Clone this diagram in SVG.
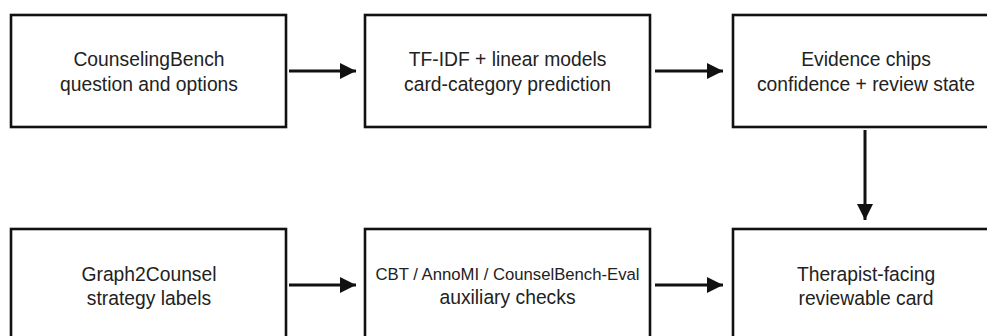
<svg xmlns="http://www.w3.org/2000/svg" width="987" height="336" viewBox="0 0 987 336">
<defs>
<marker id="ah" viewBox="0 0 16 16" refX="16" refY="8" markerWidth="16" markerHeight="16" markerUnits="userSpaceOnUse" orient="auto">
<path d="M0,0 L16,8 L0,16 Z" fill="#111"/>
</marker>
</defs>
<style>
.box{fill:#fff;stroke:#111;stroke-width:2.6}
.t{font-family:"Liberation Sans",Arial,sans-serif;font-size:19.3px;fill:#222;text-anchor:middle}
.s{font-size:16.7px}
.c{stroke:#111;stroke-width:3;fill:none;marker-end:url(#ah)}
</style>
<rect width="987" height="336" fill="#fff"/>
<g id="n1"><rect class="box" x="11" y="15" width="275" height="112"/>
<text class="t" x="149" y="66">CounselingBench</text><text class="t" x="149" y="91">question and options</text></g>
<g id="n2"><rect class="box" x="365" y="15" width="285" height="112"/>
<text class="t" x="507.5" y="66">TF-IDF + linear models</text><text class="t" x="507.5" y="91">card-category prediction</text></g>
<g id="n3"><rect class="box" x="733" y="15" width="266" height="112"/>
<text class="t" x="866" y="66">Evidence chips</text><text class="t" x="866" y="91">confidence + review state</text></g>
<g id="n4"><rect class="box" x="11" y="229" width="275" height="112"/>
<text class="t" x="149" y="281">Graph2Counsel</text><text class="t" x="149" y="305">strategy labels</text></g>
<g id="n5"><rect class="box" x="365" y="229" width="285" height="112"/>
<text class="t s" x="507.5" y="280">CBT / AnnoMI / CounselBench-Eval</text><text class="t" x="507.5" y="304">auxiliary checks</text></g>
<g id="n6"><rect class="box" x="733" y="229" width="266" height="112"/>
<text class="t" x="866" y="281">Therapist-facing</text><text class="t" x="866" y="305">reviewable card</text></g>
<g id="connectors">
<line class="c" x1="289" y1="71" x2="356" y2="71"/>
<line class="c" x1="655" y1="71" x2="723" y2="71"/>
<line class="c" x1="865" y1="130" x2="865" y2="220"/>
<line class="c" x1="289" y1="285" x2="356" y2="285"/>
<line class="c" x1="655" y1="285" x2="723" y2="285"/>
</g>
</svg>
